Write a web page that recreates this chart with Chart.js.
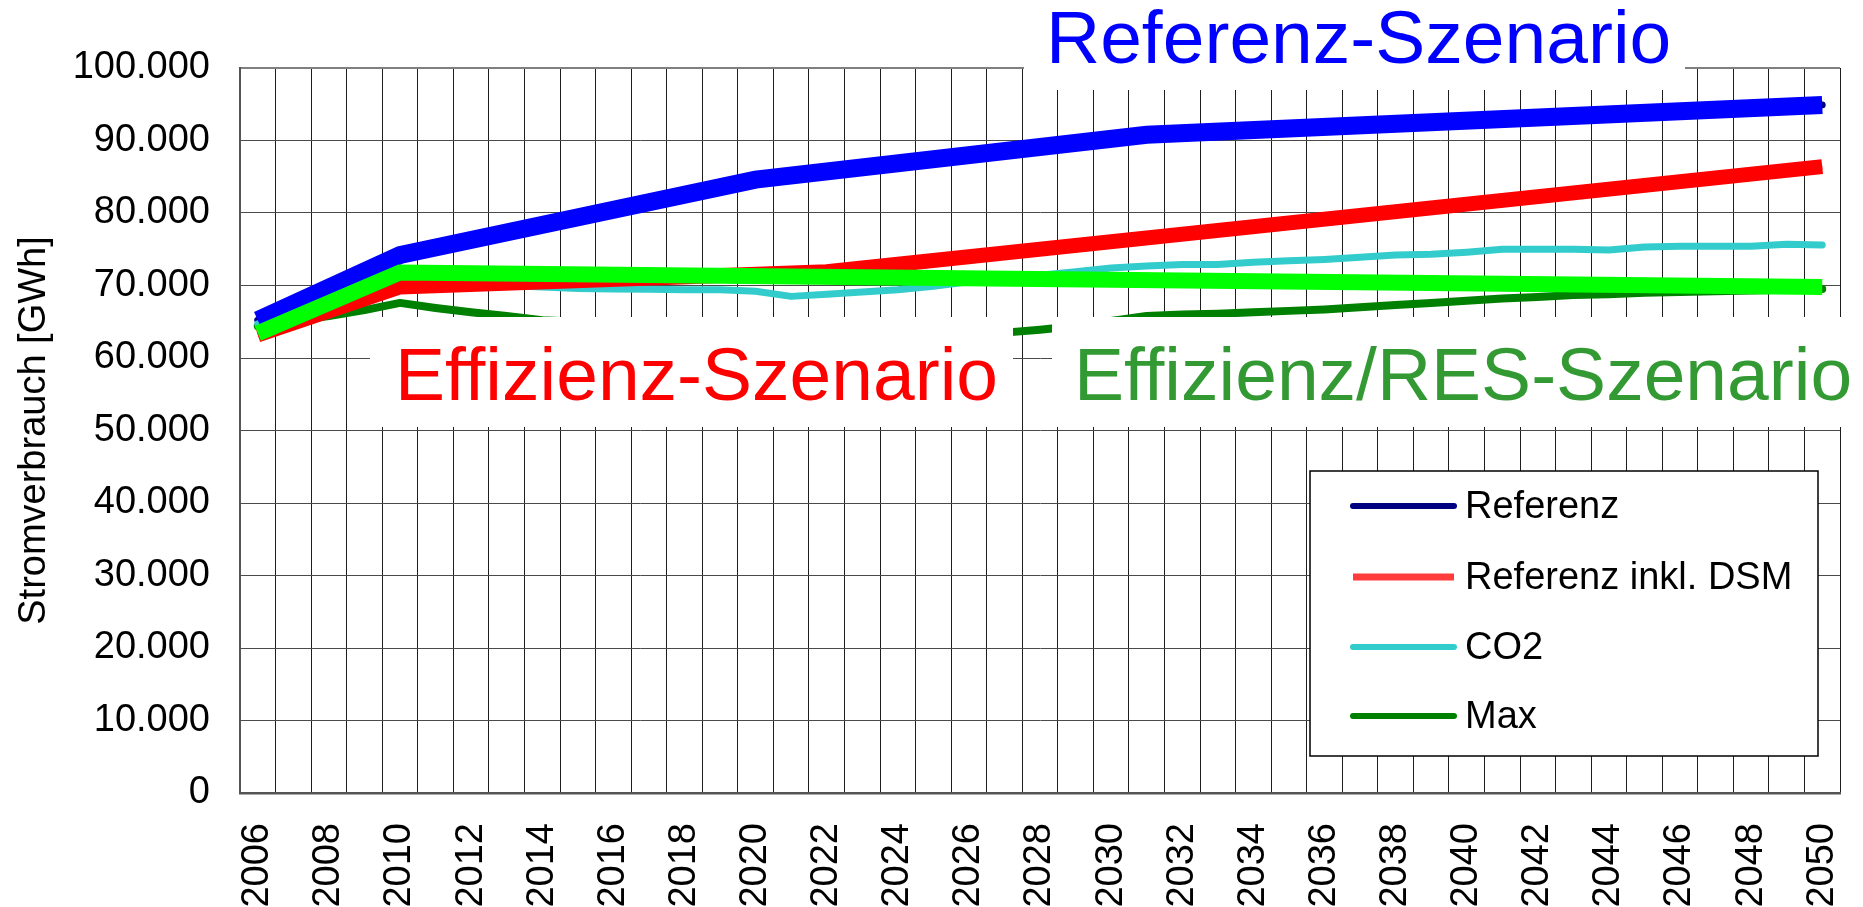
<!DOCTYPE html>
<html>
<head>
<meta charset="utf-8">
<script src="https://cdn.jsdelivr.net/npm/chart.js@4.4.0/dist/chart.umd.min.js"></script>
<style>
    html, body { margin: 0; padding: 0; background: #fff; }
    #chart { display: block; }
</style>
</head>
<body>
<canvas id="chart" width="1863" height="907"></canvas>
<script>
const FONT = '"Liberation Sans", Arial, sans-serif';

const years = [
    '2006', '2007', '2008', '2009', '2010', '2011', '2012', '2013', '2014', '2015',
    '2016', '2017', '2018', '2019', '2020', '2021', '2022', '2023', '2024', '2025',
    '2026', '2027', '2028', '2029', '2030', '2031', '2032', '2033', '2034', '2035',
    '2036', '2037', '2038', '2039', '2040', '2041', '2042', '2043', '2044', '2045',
    '2046', '2047', '2048', '2049', '2050'
];

// scenario curves (drawn as thick polylines, only their corner years are known)
const referenzYears = ['2006', '2010', '2020', '2031', '2050'];
const referenzValues = [65200, 74200, 84600, 90800, 94900];

const dsmYears = ['2006', '2010', '2022', '2050'];
const dsmValues = [63200, 69800, 71900, 86400];

const resYears = ['2006', '2010', '2050'];
const resValues = [63400, 71800, 69800];

// yearly series
const co2Values = [
    64700, 66000, 67500, 69000, 70300, 70200, 70100, 70000, 69800, 69600,
    69500, 69500, 69400, 69400, 69200, 68500, 68800, 69100, 69400, 69900,
    70500, 71000, 71400, 71900, 72400, 72700, 72900, 72900, 73200, 73400,
    73600, 73900, 74200, 74300, 74600, 75000, 75000, 75000, 74900, 75300,
    75400, 75400, 75400, 75700, 75600
];
const maxValues = [
    64400, 65100, 65800, 66600, 67600, 66900, 66300, 65800, 65200, 65000,
    64600, 64200, 63900, 63600, 63400, 63100, 63000, 63000, 63100, 63200,
    63300, 63500, 63900, 64400, 65100, 65800, 66000, 66100, 66300, 66500,
    66700, 67000, 67300, 67600, 67900, 68200, 68400, 68700, 68800, 69000,
    69100, 69200, 69300, 69400, 69500
];

const yTicks = [0, 10000, 20000, 30000, 40000, 50000, 60000, 70000, 80000, 90000, 100000];

const seriesNames = ['Referenz', 'Referenz inkl. DSM', 'CO2', 'Max'];
const seriesColors = ['#000080', '#ff3b3b', '#33cccc', '#008000'];

const scenarioNames = ['Referenz-Szenario', 'Effizienz-Szenario', 'Effizienz/RES-Szenario'];
const scenarioColors = ['#0000ff', '#ff0000', '#339933'];

const toPoints = (xs, ys) => xs.map((x, i) => ({ x: x, y: ys[i] }));

const formatThousands = (v) => String(v).replace(/\B(?=(\d{3})+(?!\d))/g, '.');

// white text boxes laid over the plot, then their captions
const labelBoxes = [
    { x: 1024, y: 0, w: 661, h: 90, tx: 1046, ty: 63 },
    { x: 370, y: 317, w: 643, h: 110, tx: 395, ty: 400 },
    { x: 1052, y: 317, w: 811, h: 110, tx: 1074, ty: 400 }
];

const overlayPlugin = {
    id: 'overlay',
    afterDraw(chart) {
        const ctx = chart.ctx;
        ctx.save();

        ctx.fillStyle = '#ffffff';
        labelBoxes.forEach(b => ctx.fillRect(b.x, b.y, b.w, b.h));

        ctx.font = '75px ' + FONT;
        ctx.textBaseline = 'alphabetic';
        ctx.textAlign = 'left';
        labelBoxes.forEach((b, i) => {
            ctx.fillStyle = scenarioColors[i];
            ctx.fillText(scenarioNames[i], b.tx, b.ty);
        });

        // legend box
        const lx = 1310, ly = 471, lw = 508, lh = 285;
        ctx.fillStyle = '#ffffff';
        ctx.fillRect(lx, ly, lw, lh);
        ctx.strokeStyle = '#000000';
        ctx.lineWidth = 1.5;
        ctx.strokeRect(lx, ly, lw, lh);

        ctx.font = '38px ' + FONT;
        ctx.textBaseline = 'middle';
        const rows = [506, 577, 647, 716];
        chart.data.datasets.filter(ds => ds.inLegend).forEach((ds, i) => {
            const y = rows[i];
            ctx.beginPath();
            ctx.strokeStyle = ds.borderColor;
            ctx.lineWidth = ds.legendWidth;
            ctx.lineCap = ds.legendCap;
            ctx.moveTo(1353, y);
            ctx.lineTo(1454, y);
            ctx.stroke();
            ctx.fillStyle = '#000000';
            ctx.fillText(ds.label, 1465, y + 2);
        });

        ctx.restore();
    }
};

const thinLine = (label, data, color, width, order, legendWidth, cap) => ({
    label: label,
    data: data,
    borderColor: color,
    borderWidth: width,
    borderCapStyle: cap,
    borderJoinStyle: 'round',
    pointRadius: 0,
    tension: 0,
    order: order,
    inLegend: true,
    legendWidth: legendWidth,
    legendCap: cap
});

const thickLine = (label, data, color, width, order) => ({
    label: label,
    data: data,
    borderColor: color,
    borderWidth: width,
    borderCapStyle: 'butt',
    borderJoinStyle: 'miter',
    pointRadius: 0,
    tension: 0,
    spanGaps: true,
    order: order,
    inLegend: false
});

const chart = new Chart(document.getElementById('chart'), {
    type: 'line',
    data: {
        labels: years,
        datasets: [
            thinLine(seriesNames[0], toPoints(referenzYears, referenzValues), seriesColors[0], 7, 7, 6, 'round'),
            thinLine(seriesNames[1], toPoints(dsmYears, dsmValues), seriesColors[1], 6, 6, 7, 'butt'),
            thinLine(seriesNames[2], co2Values, seriesColors[2], 7, 4, 6, 'round'),
            thinLine(seriesNames[3], maxValues, seriesColors[3], 8, 5, 6, 'round'),
            thickLine(scenarioNames[0], toPoints(referenzYears, referenzValues), '#0000ff', 18, 3),
            thickLine(scenarioNames[1], toPoints(dsmYears, dsmValues), '#ff0000', 15, 2),
            thickLine(scenarioNames[2], toPoints(resYears, resValues), '#00ff00', 16, 1)
        ]
    },
    options: {
        responsive: false,
        animation: false,
        devicePixelRatio: 1,
        layout: { padding: { top: 68, right: 23, bottom: 0, left: 0 } },
        plugins: {
            legend: { display: false },
            tooltip: { enabled: false }
        },
        scales: {
            x: {
                type: 'category',
                offset: true,
                grid: {
                    offset: true,
                    color: '#1e1e1e',
                    lineWidth: 1,
                    drawTicks: false
                },
                border: { display: true, color: '#555555', width: 2.5 },
                ticks: {
                    autoSkip: false,
                    maxRotation: 90,
                    minRotation: 90,
                    padding: 30,
                    color: '#000000',
                    font: { family: FONT, size: 38 },
                    callback: function (v, i) {
                        return i % 2 === 0 ? this.getLabelForValue(v) : '';
                    }
                },
                afterFit: (scale) => {
                    scale.height = 114;
                    scale.paddingLeft = 0;
                    scale.paddingRight = 0;
                }
            },
            y: {
                min: yTicks[0],
                max: yTicks[yTicks.length - 1],
                grid: {
                    color: (c) => (c.tick && c.tick.value === 100000 ? '#808080' : '#4a4a4a'),
                    lineWidth: (c) => (c.tick && c.tick.value === 100000 ? 2 : 1),
                    drawTicks: false
                },
                border: { display: true, color: '#555555', width: 2 },
                afterBuildTicks: (scale) => {
                    scale.ticks = yTicks.map(v => ({ value: v }));
                },
                ticks: {
                    padding: 30,
                    color: '#000000',
                    font: { family: FONT, size: 38 },
                    callback: (v) => formatThousands(v)
                },
                title: {
                    display: true,
                    text: 'Stromverbrauch [GWh]',
                    color: '#000000',
                    font: { family: FONT, size: 38 },
                    padding: { top: 12, bottom: 0 }
                },
                afterFit: (scale) => {
                    scale.width = 240;
                    scale.paddingTop = 0;
                    scale.paddingBottom = 0;
                }
            }
        }
    },
    plugins: [overlayPlugin]
});
</script>
</body>
</html>
